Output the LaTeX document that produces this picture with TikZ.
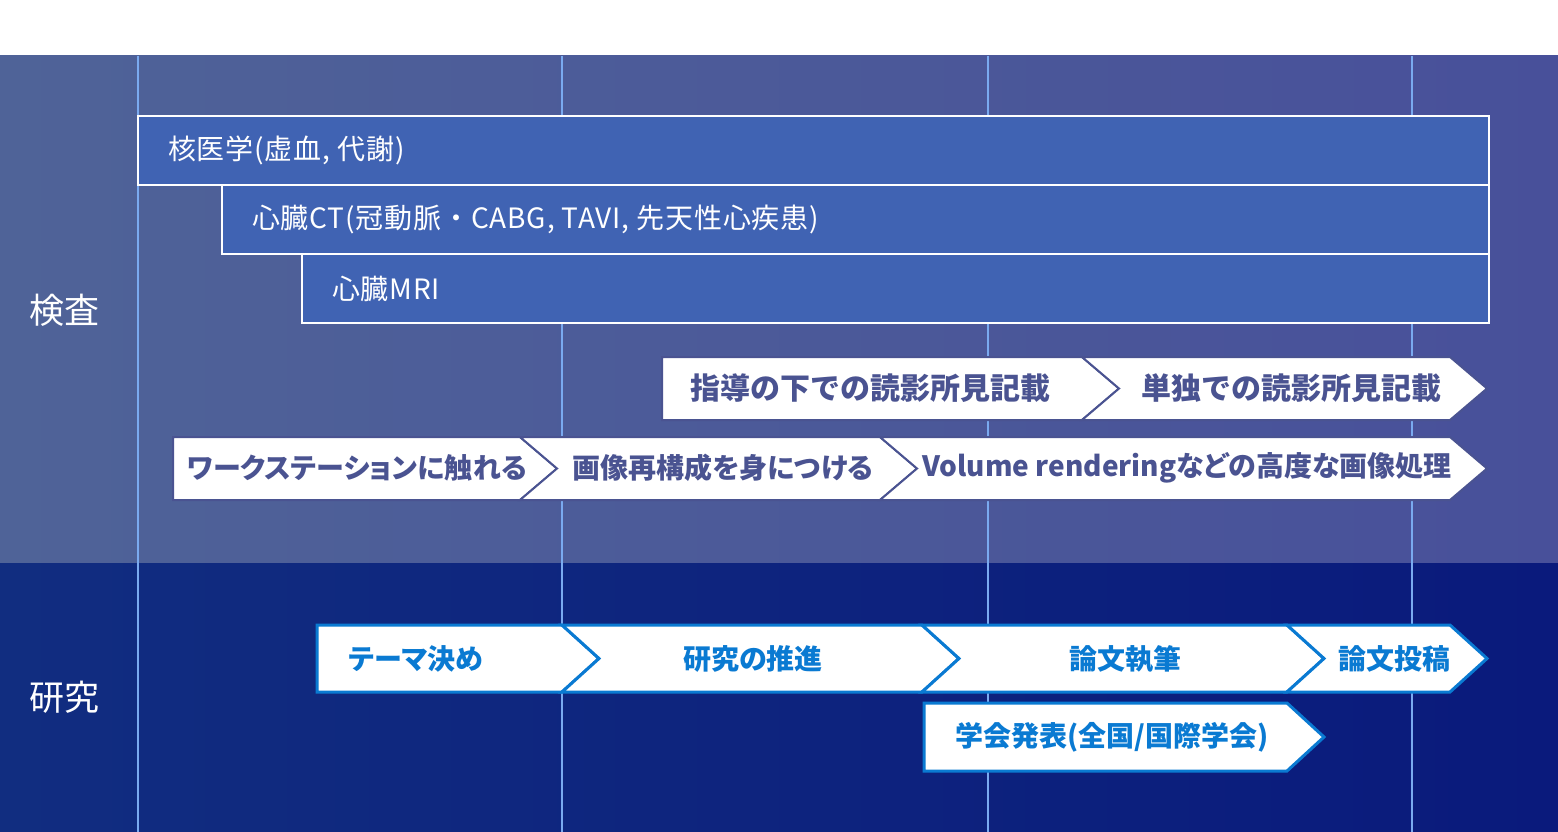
\documentclass[tikz,border=0pt]{standalone}
\usepackage{fontspec}
\setmainfont{Noto Sans CJK JP}
\newfontfamily\propjp[RawFeature=+palt]{Noto Sans CJK JP}
\newfontfamily\trackjp[LetterSpace=3]{Noto Sans CJK JP}
\definecolor{topleft}{HTML}{4F6398}
\definecolor{topright}{HTML}{48509A}
\definecolor{botleft}{HTML}{112D80}
\definecolor{botright}{HTML}{0A1A7C}
\definecolor{gridline}{HTML}{7AAAF0}
\definecolor{boxblue}{HTML}{4063B3}
\definecolor{slate}{HTML}{4A5391}
\definecolor{resblue}{HTML}{0A7AD2}
% chevron: [style]{left}{shoulder}{top}{bottom}{notch}
\newcommand{\chev}[6][]{\draw[#1] (#2,#4) -- (#3,#4) -- ({#3+37},{(#4+#5)/2}) -- (#3,#5) -- (#2,#5) -- ({#2+#6},{(#4+#5)/2}) -- cycle;}
\begin{document}
\begin{tikzpicture}[x=1pt,y=-1pt,inner sep=0pt,outer sep=0pt,
exambox/.style={draw=white,line width=1.5pt,fill=boxblue},
boxtext/.style={anchor=west,text=white,font=\trackjp\fontsize{28}{32}\selectfont},
sidelabel/.style={text=white,font=\fontsize{35}{40}\selectfont},
examstep/.style={fill=white,draw=slate,line width=2pt},
examtext/.style={text=slate,font=\propjp\bfseries\fontsize{28}{32}\selectfont},
bigtext/.style={examtext,font=\bfseries\fontsize{30}{34}\selectfont},
resstep/.style={fill=white,draw=resblue,line width=3pt},
restext/.style={text=resblue,font=\propjp\bfseries\fontsize{28}{32}\selectfont}]
\useasboundingbox (0,0) rectangle (1558,832);
\fill[white] (0,0) rectangle (1558,56);
% background bands
\shade[left color=topleft,right color=topright] (0,56) rectangle (1558,563);
\shade[left color=botleft,right color=botright] (0,563) rectangle (1558,832);
\foreach \x in {138,562,988,1412}
  \draw[gridline,line width=1.5pt] (\x,56) -- (\x,832);
\node[sidelabel] (exam) at (64,310) {検査};
\node[sidelabel] (research) at (64,697) {研究};
% modalities
\draw[exambox] (138,116) rectangle (1489,185);
\draw[exambox] (222,185) rectangle (1489,254);
\draw[exambox] (302,254) rectangle (1489,323);
\node[boxtext] (nuclear) at (168,150) {核医学(虚血, 代謝)};
\node[boxtext] (cardct) at (252,219) {心臓CT(冠動脈・CABG, TAVI, 先天性心疾患)};
\node[boxtext] (cardmri) at (332,289) {心臓MRI};
% reading
\chev[examstep]{662}{1082}{357}{420}{0}
\chev[examstep]{1082}{1450}{357}{420}{37}
\node[bigtext] (guided) at (870,388) {指導の下での読影所見記載};
\node[bigtext] (alone) at (1291,388) {単独での読影所見記載};
% workstation
\chev[examstep]{173}{520}{437}{500}{0}
\chev[examstep]{520}{880}{437}{500}{37}
\chev[examstep]{880}{1450}{437}{500}{37}
\node[examtext] (touch) at (357,468) {ワークステーションに触れる};
\node[examtext] (recon) at (723,468) {画像再構成を身につける};
\node[examtext] (volume) at (1187,468) {Volume renderingなどの高度な画像処理};
% research
\chev[resstep]{317}{562}{625}{692}{0}
\chev[resstep]{562}{922}{625}{692}{37}
\chev[resstep]{922}{1287}{625}{692}{37}
\chev[resstep]{1287}{1450}{625}{692}{37}
\chev[resstep]{924}{1287}{703}{771}{0}
\node[restext] (theme) at (416,659) {テーマ決め};
\node[restext] (promote) at (753,659) {研究の推進};
\node[restext] (write) at (1125,659) {論文執筆};
\node[restext] (submit) at (1394,659) {論文投稿};
\node[restext] (present) at (1112,737) {学会発表(全国/国際学会)};
\end{tikzpicture}
\end{document}
